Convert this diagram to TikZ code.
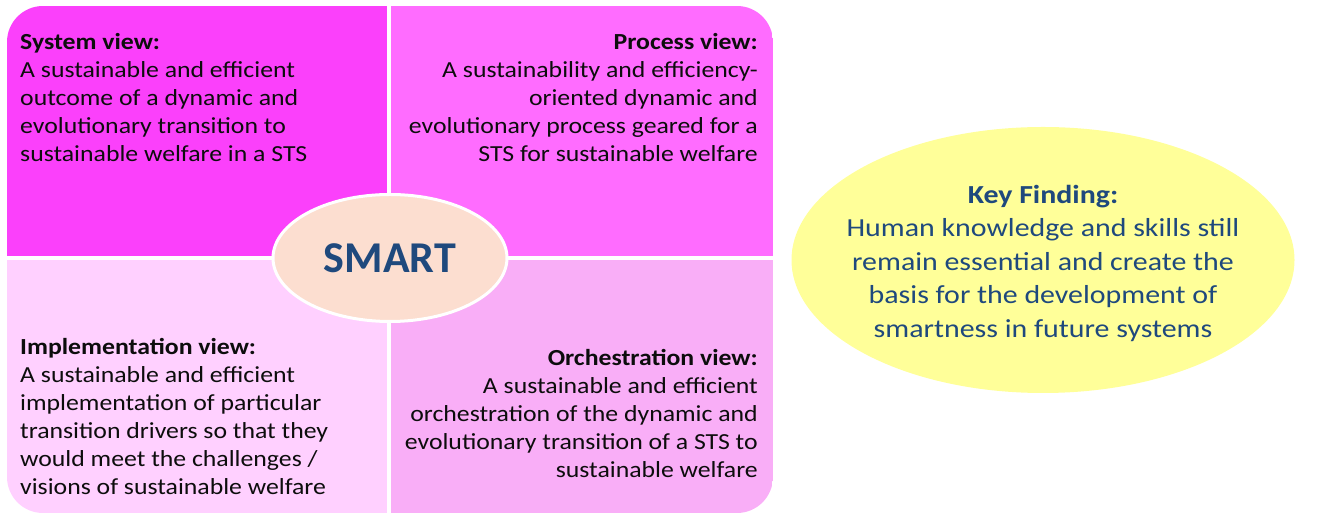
\documentclass[tikz,border=0pt]{standalone}
\usepackage{fontspec}
\setmainfont[FakeStretch=1.12]{Carlito}
\newfontfamily\smartfont{Carlito}
\newfontfamily\findfont[FakeStretch=1.15]{Carlito}
\usetikzlibrary{shapes.geometric}
\definecolor{sysmag}{RGB}{251,64,251}
\definecolor{procmag}{RGB}{255,108,255}
\definecolor{implpink}{RGB}{255,208,255}
\definecolor{orchpink}{RGB}{249,174,247}
\definecolor{smartfill}{RGB}{252,222,208}
\definecolor{findfill}{RGB}{255,255,153}
\definecolor{darkblue}{RGB}{31,73,125}
\definecolor{txt}{RGB}{13,13,13}

\begin{document}
\begin{tikzpicture}[x=1pt,y=1pt,
    viewtext/.style={inner sep=0pt,text=txt,font={\fontsize{23}{28}\selectfont}},
    smartnode/.style={ellipse,fill=smartfill,draw=white,line width=3pt,
      minimum width=234pt,minimum height=127pt,inner sep=0pt,
      text=darkblue,font={\smartfont\fontsize{44}{50}\selectfont\bfseries}},
    findnode/.style={ellipse,fill=findfill,minimum width=503pt,minimum height=266pt,
      inner sep=0pt},
    findtext/.style={inner sep=0pt,align=center,text=darkblue,
      font={\findfont\fontsize{26}{33.5}\selectfont}}]
    \useasboundingbox (0,0) rectangle (1339,516);

    % Cztery ćwiartki
    \begin{scope}
      \clip[rounded corners=36pt] (7,3) rectangle (773,510);
      \fill[sysmag]  (7,258)   rectangle (389,510);
      \fill[procmag] (389,258) rectangle (773,510);
      \fill[implpink] (7,3)    rectangle (389,258);
      \fill[orchpink] (389,3)  rectangle (773,258);
    \end{scope}
    \draw[white,line width=4pt] (389,3) -- (389,510);
    \draw[white,line width=4pt] (7,258) -- (773,258);

    % Teksty w ćwiartkach (kotwica = linia bazowa ostatniego wiersza)
    \node[viewtext,anchor=base west,align=left] (system) at (20,354)
      {\textbf{System view:}\\ A sustainable and efficient\\ outcome of a dynamic and\\
       evolutionary transition to\\ sustainable welfare in a STS};

    \node[viewtext,anchor=base east,align=right] (process) at (758,354)
      {\textbf{Process view:}\\ A sustainability and efficiency-\\ oriented dynamic and\\
       evolutionary process geared for a\\ STS for sustainable welfare};

    \node[viewtext,anchor=base west,align=left] (impl) at (20,21)
      {\textbf{Implementation view:}\\ A sustainable and efficient\\ implementation of particular\\
       transition drivers so that they\\ would meet the challenges /\\ visions of sustainable welfare};

    \node[viewtext,anchor=base east,align=right] (orch) at (758,38)
      {\textbf{Orchestration view:}\\ A sustainable and efficient\\ orchestration of the dynamic and\\
       evolutionary transition of a STS to\\ sustainable welfare};

    % SMART w środku
    \node[smartnode] (smart) at (390,258) {SMART};

    % Key Finding
    \node[findnode] (finding) at (1043,256) {};
    \node[findtext] (findtxt) at ([yshift=-3pt]finding.center)
      {\textbf{Key Finding:}\\ Human knowledge and skills still\\ remain essential and create the\\
       basis for the development of\\ smartness in future systems};

\end{tikzpicture}
\end{document}
